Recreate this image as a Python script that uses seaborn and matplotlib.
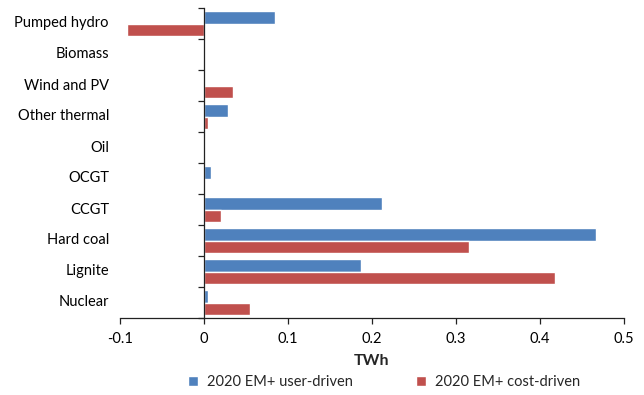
import numpy as np
import pandas as pd
import matplotlib
matplotlib.use("Agg")
import matplotlib.pyplot as plt
import seaborn as sns

# categories top to bottom, as in the chart
categories = ["Pumped hydro", "Biomass", "Wind and PV", "Other thermal", "Oil",
              "OCGT", "CCGT", "Hard coal", "Lignite", "Nuclear"]
user_driven = [0.085, 0.0, -0.001, 0.028, 0.001, 0.008, 0.212, 0.467, 0.187, 0.005]
cost_driven = [-0.092, 0.0, 0.035, 0.005, 0.0, 0.0, 0.020, 0.315, 0.418, 0.055]
series_names = ["2020 EM+ user-driven", "2020 EM+ cost-driven"]
xticks = [-0.1, 0, 0.1, 0.2, 0.3, 0.4, 0.5]
xtick_labels = ["-0.1", "0", "0.1", "0.2", "0.3", "0.4", "0.5"]

sns.set_theme(style="white")
plt.rcParams["font.family"] = ["Lato", "DejaVu Sans"]

df = pd.DataFrame({
    "category": categories * 2,
    "TWh": user_driven + cost_driven,
    "series": [series_names[0]] * len(categories) + [series_names[1]] * len(categories),
})

fig = plt.figure(figsize=(6.44, 3.95), dpi=100)
ax = fig.add_axes([120 / 644, 1 - 318 / 395, 504 / 644, 310 / 395])

sns.barplot(data=df, y="category", x="TWh", hue="series", orient="h",
            palette=["#4F81BD", "#C0504D"], width=0.8, saturation=1,
            order=categories, ax=ax, legend=True)

ax.set_xlim(-0.1, 0.5)
ax.set_ylim(len(categories) - 0.5, -0.5)

# spines: category axis crosses at 0
for s in ["top", "right"]:
    ax.spines[s].set_visible(False)
ax.spines["left"].set_position(("data", 0))
for s in ["left", "bottom"]:
    ax.spines[s].set_color("#222222")
    ax.spines[s].set_linewidth(0.9)

ax.set_yticks(np.arange(-0.5, len(categories), 1))
ax.set_yticklabels([])
ax.tick_params(axis="y", direction="out", length=4, width=0.9, color="#222222", left=True)
for i, c in enumerate(categories):
    ax.text(-0.022, i, c, transform=ax.get_yaxis_transform(), ha="right", va="center",
            fontsize=10.5, color="black")

ax.set_xticks(xticks)
ax.set_xticklabels(xtick_labels, fontsize=10.5, color="black")
ax.tick_params(axis="x", direction="out", length=4, width=0.9, color="#222222", bottom=True, pad=6)
ax.set_xlabel("TWh", fontsize=11.5, fontweight="bold", labelpad=6)
ax.set_ylabel("")

handles, labels = ax.get_legend_handles_labels()
ax.get_legend().remove()
fig.legend(handles, labels, loc="center", bbox_to_anchor=(384 / 644, 1 - 382 / 395), ncol=2,
           frameon=False, fontsize=10.5, handlelength=0.7, handleheight=0.7,
           columnspacing=4.3, handletextpad=0.6)

fig.savefig("out.png", dpi=100)
